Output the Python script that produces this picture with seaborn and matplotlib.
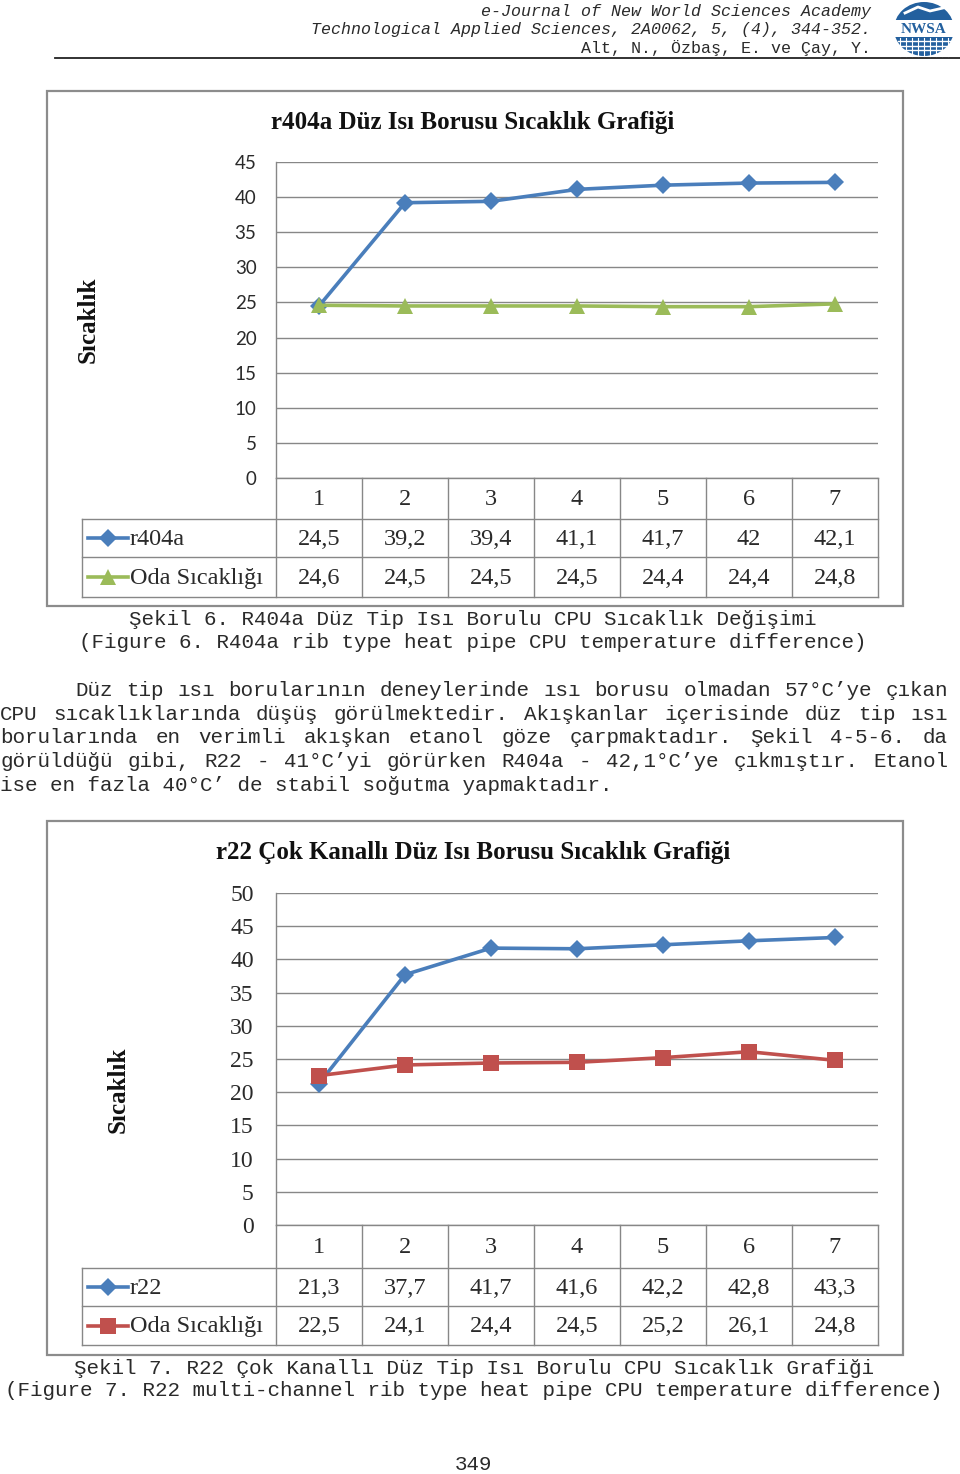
import numpy as np
import pandas as pd
import matplotlib
matplotlib.use("Agg")
import matplotlib.pyplot as plt
import seaborn as sns
from matplotlib.lines import Line2D
from matplotlib.patches import Rectangle, Ellipse

# ---------------- data ----------------
categories = [1, 2, 3, 4, 5, 6, 7]
r404a = [24.5, 39.2, 39.4, 41.1, 41.7, 42.0, 42.1]
oda1 = [24.6, 24.5, 24.5, 24.5, 24.4, 24.4, 24.8]
r22 = [21.3, 37.7, 41.7, 41.6, 42.2, 42.8, 43.3]
oda2 = [22.5, 24.1, 24.4, 24.5, 25.2, 26.1, 24.8]
yticks1 = [0, 5, 10, 15, 20, 25, 30, 35, 40, 45]
yticks2 = [0, 5, 10, 15, 20, 25, 30, 35, 40, 45, 50]

title1 = "r404a Düz Isı Borusu Sıcaklık Grafiği"
title2 = "r22 Çok Kanallı Düz Isı Borusu Sıcaklık Grafiği"
ylabel = "Sıcaklık"
s1a, s1b = "r404a", "Oda Sıcaklığı"
s2a, s2b = "r22", "Oda Sıcaklığı"

header_lines = ["e-Journal of New World Sciences Academy",
                "Technological Applied Sciences, 2A0062, 5, (4), 344-352.",
                "Alt, N., Özbaş, E. ve Çay, Y."]
caption6 = ["Şekil 6. R404a Düz Tip Isı Borulu CPU Sıcaklık Değişimi",
            "(Figure 6. R404a rib type heat pipe CPU temperature difference)"]
caption7 = ["Şekil 7. R22 Çok Kanallı Düz Tip Isı Borulu CPU Sıcaklık Grafiği",
            "(Figure 7. R22 multi-channel rib type heat pipe CPU temperature difference)"]
body = ["Düz tip ısı borularının deneylerinde ısı borusu olmadan 57°C’ye çıkan",
        "CPU sıcaklıklarında düşüş görülmektedir. Akışkanlar içerisinde düz tip ısı",
        "borularında en verimli akışkan etanol göze çarpmaktadır. Şekil 4-5-6. da",
        "görüldüğü gibi, R22 - 41°C’yi görürken R404a - 42,1°C’ye çıkmıştır. Etanol",
        "ise en fazla 40°C’ de stabil soğutma yapmaktadır."]
page_number = "349"

BLUE = "#4a7ebb"
GREEN = "#9bbb59"
RED = "#c0504d"
GRID = "#878787"
SERIF = "Liberation Serif"
MONO = "Liberation Mono"
TXT = "#2a2a2a"

W, H = 960, 1474
fig = plt.figure(figsize=(W / 100, H / 100), dpi=100)
page = fig.add_axes([0, 0, 1, 1])
page.set_xlim(0, W)
page.set_ylim(H, 0)
page.axis("off")


def frac(l, t, r, b):
    return [l / W, 1 - b / H, (r - l) / W, (b - t) / H]


def fmt(v):
    return f"{v:g}".replace(".", ",")


# ---------------- header ----------------
cw_h = 9.95
fs_h = cw_h / 0.6 * 72 / 100
for i, (txt, yy) in enumerate(zip(header_lines, [11, 29, 48])):
    page.text(871, yy, txt, ha="right", va="center", family=MONO,
              style="italic" if i < 2 else "normal", fontsize=fs_h, color=TXT)
page.plot([55, 960], [58, 58], color="#222222", lw=1.3)

# logo
page.add_patch(Ellipse((924, 29), 60, 54, facecolor="#23609e", edgecolor="none"))
page.add_patch(Rectangle((893, 20), 62, 17, facecolor="white", edgecolor="none"))
for yy in [41, 45.5, 50]:
    page.plot([898, 950], [yy, yy], color="white", lw=1)
for xx in np.linspace(900, 948, 9):
    page.plot([xx, xx], [38, 56], color="white", lw=0.8)
page.plot([905, 918, 930, 943], [13, 7, 11, 8], color="white", lw=2)
page.text(924, 29, "NWSA", ha="center", va="center", family=SERIF, weight="bold",
          fontsize=11, color="#23609e")


# ---------------- charts ----------------
def make_chart(top_frame, bot_frame, plot_top, plot_bot, rows, title, title_y,
               ylab_x, ylab_y, names, vals, colors, mks, msizes, yticks,
               tickfont, ticksize, tickpad):
    # outer frame
    page.add_patch(Rectangle((47, top_frame), 856, bot_frame - top_frame,
                             facecolor="white", edgecolor="#8c8c8c", lw=1.6, zorder=0))
    ax = fig.add_axes(frac(276, plot_top, 878, plot_bot))
    df = pd.DataFrame({
        "x": categories * 2,
        "y": list(vals[0]) + list(vals[1]),
        "series": [names[0] + " "] * len(categories) + [names[1]] * len(categories),
    })
    keys = [names[0] + " ", names[1]]
    for k, c, m, ms in zip(keys, colors, mks, msizes):
        sns.lineplot(data=df[df["series"] == k], x="x", y="y", color=c, marker=m,
                     markersize=ms, markeredgewidth=0, lw=2.6, ax=ax, legend=False,
                     sort=False, zorder=3)
    ax.set_xlim(0.5, 7.5)
    ax.set_ylim(0, yticks[-1])
    ax.set_yticks(yticks)
    ax.set_yticklabels([str(t) for t in yticks], family=tickfont, fontsize=ticksize,
                       color=TXT)
    ax.set_xticks([])
    ax.set_xlabel("")
    ax.set_ylabel("")
    ax.grid(axis="y", color=GRID, lw=1)
    ax.set_axisbelow(True)
    ax.tick_params(axis="y", length=0, pad=tickpad)
    for s in ["top", "right"]:
        ax.spines[s].set_visible(False)
    for s in ["left", "bottom"]:
        ax.spines[s].set_color(GRID)
        ax.spines[s].set_linewidth(1)
    ax.set_facecolor("none")

    # title and y label
    page.text(473, title_y, title, ha="center", va="center", family=SERIF,
              weight="bold", fontsize=18, color="#111111")
    page.text(ylab_x, ylab_y, ylabel, ha="center", va="center", family=SERIF,
              weight="bold", fontsize=18, rotation=90, color="#111111")

    # data table
    r0, r1, r2, r3 = rows
    xs = [276 + 86 * k for k in range(8)]
    for xx in xs:
        page.plot([xx, xx], [r0, r3], color=GRID, lw=1, zorder=1)
    page.plot([82, 82], [r1, r3], color=GRID, lw=1, zorder=1)
    for yy in [r1, r2, r3]:
        page.plot([82, 878], [yy, yy], color=GRID, lw=1, zorder=1)
    for i, c in enumerate(categories):
        cx = 319 + 86 * i
        page.text(cx, (r0 + r1) / 2 + 1, str(c), ha="center", va="center",
                  family=SERIF, fontsize=17.5, color=TXT)
        for v, (ya, yb) in zip([vals[0][i], vals[1][i]], [(r1, r2), (r2, r3)]):
            page.text(cx, (ya + yb) / 2 + 1, fmt(v), ha="center", va="center",
                      family=SERIF, fontsize=17.5, color=TXT)
    for name, c, m, ms, (ya, yb) in zip(names, colors, mks, msizes, [(r1, r2), (r2, r3)]):
        ym = (ya + yb) / 2
        page.add_line(Line2D([88, 108, 128], [ym, ym, ym], color=c, lw=2.6,
                             marker=m, markevery=[1], markersize=ms, markeredgewidth=0))
        page.text(130, ym + 1, name, ha="left", va="center", family=SERIF,
                  fontsize=17.5, color=TXT)
    return ax


make_chart(91, 606, 162, 478, (478, 519, 557, 597), title1, 122, 88, 320,
           [s1a, s1b], [r404a, oda1], [BLUE, GREEN], ["D", "^"], [9, 12], yticks1,
           "Lato", 13.5, 14)
make_chart(821, 1355, 893, 1225, (1225, 1268, 1306, 1345), title2, 852, 118, 1090,
           [s2a, s2b], [r22, oda2], [BLUE, RED], ["D", "s"], [9, 11], yticks2,
           SERIF, 17, 16)

# ---------------- captions & body ----------------
cw = 12.5
fs_b = cw / 0.6 * 72 / 100
for txt, yy in zip(caption6, [619, 642]):
    page.text(473, yy, txt, ha="center", va="center", family=MONO, fontsize=fs_b,
              color=TXT)
for txt, yy in zip(caption7, [1368, 1391]):
    page.text(474, yy, txt, ha="center", va="center", family=MONO, fontsize=fs_b,
              color=TXT)


def put_line(txt, y, x0, x1, justify):
    words = txt.split(" ")
    if not justify or len(words) < 2:
        page.text(x0, y, txt, ha="left", va="center", family=MONO, fontsize=fs_b,
                  color=TXT)
        return
    nch = sum(len(w) for w in words)
    gap = (x1 - x0 - nch * cw) / (len(words) - 1)
    x = x0
    for w in words:
        page.text(x, y, w, ha="left", va="center", family=MONO, fontsize=fs_b,
                  color=TXT)
        x += len(w) * cw + gap


body_y = [690, 714, 737, 761, 785]
for i, (txt, yy) in enumerate(zip(body, body_y)):
    put_line(txt, yy, 75 if i == 0 else 0, 948, i < len(body) - 1)

page.text(474, 1464, page_number, ha="center", va="center", family=MONO,
          fontsize=fs_b, color=TXT)

fig.savefig("out.png", dpi=100)
